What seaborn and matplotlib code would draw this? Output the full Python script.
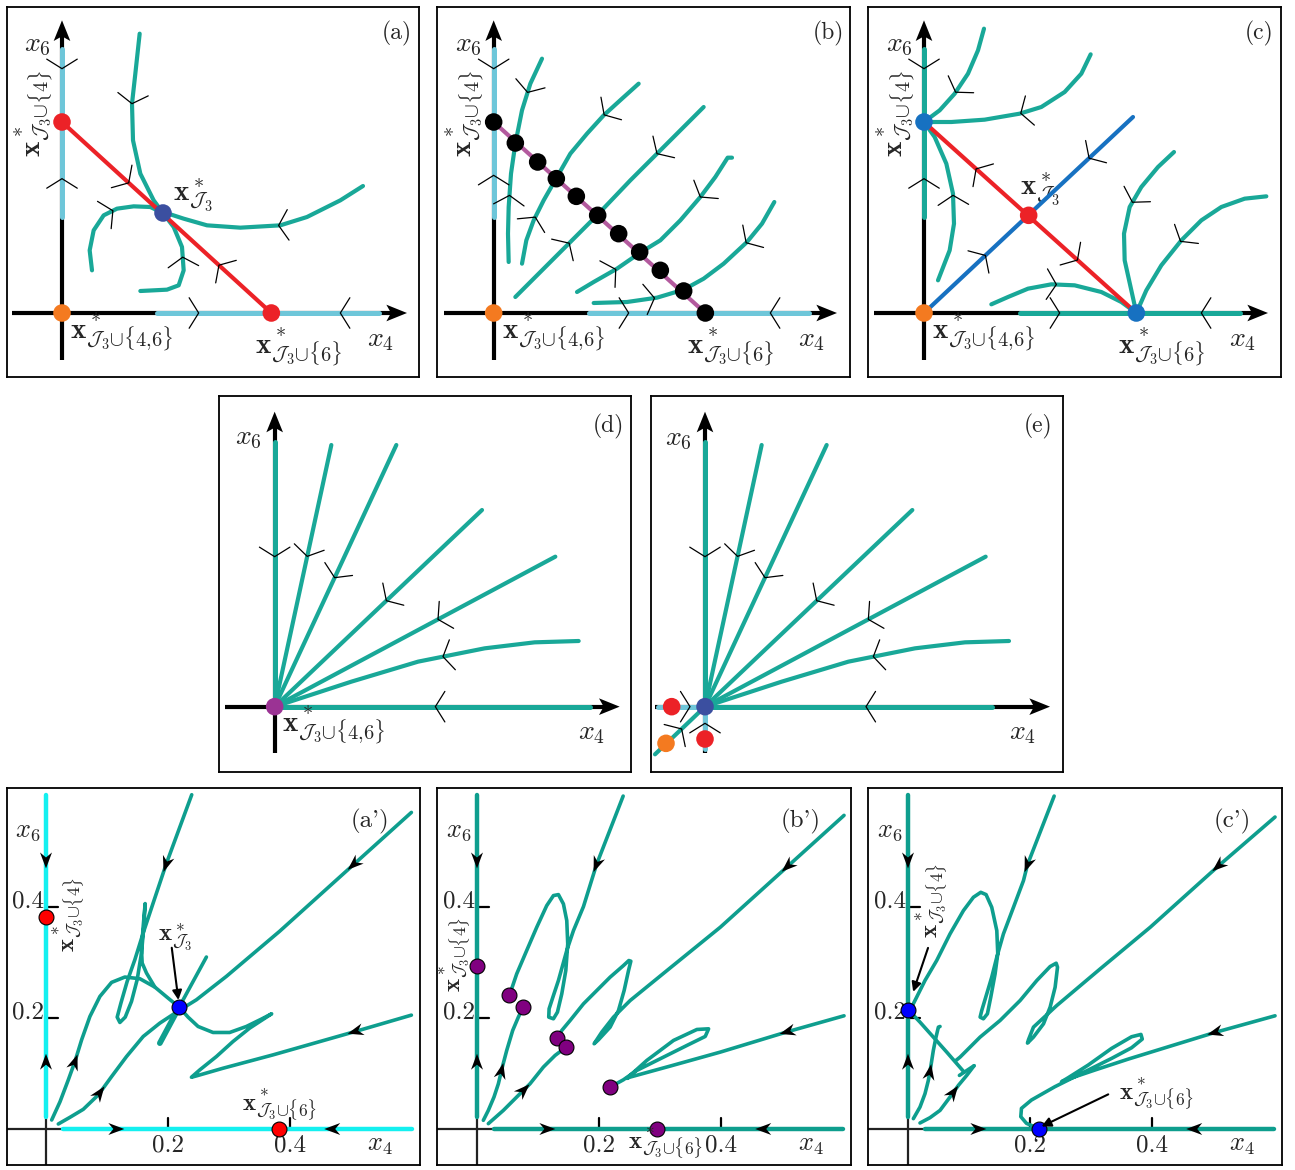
import numpy as np
import matplotlib
matplotlib.use("Agg")
import matplotlib.pyplot as plt
import seaborn as sns

sns.set_theme(style="white")
plt.rcParams["font.family"] = ["DejaVu Serif"]
plt.rcParams["mathtext.fontset"] = "cm"

# ---------------- colours ----------------
TEAL = "#19A898"
TEAL2 = "#0E9E8E"
LBLUE = "#6EC6D9"
CYAN = "#14F0F0"
RED = "#EC2227"
ORANGE = "#F47A20"
SADBLUE = "#3B4FA0"
CBLUE = "#1771C1"
PLINE = "#B35A9E"
DPURP = "#9B3394"

LBL_Y = r"$\mathbf{x}^*_{\mathcal{J}_3{\cup}\{4\}}$"
LBL_O = r"$\mathbf{x}^*_{\mathcal{J}_3{\cup}\{4{,}6\}}$"
LBL_X = r"$\mathbf{x}^*_{\mathcal{J}_3{\cup}\{6\}}$"
LBL_S = r"$\mathbf{x}^*_{\mathcal{J}_3}$"

# =============== schematic data (units: 1/3 px, origin at axes crossing) ===============
# (a)
A_C1_U = [233, 220, 210, 213, 235, 275, 303, 335, 360, 365, 350, 315, 235]
A_C1_V = [838, 718, 628, 518, 418, 338, 300, 258, 198, 128, 83, 70, 66]
A_C2_U = [903, 835, 735, 655, 535, 435, 365, 325, 303, 265, 215, 165, 125, 95, 83, 90]
A_C2_V = [381, 338, 288, 263, 256, 263, 283, 296, 300, 318, 320, 313, 293, 248, 188, 128]
A_RED_U = [0, 628]
A_RED_V = [573, 0]
A_SADDLE = [303, 300]
A_XFIX = 628
A_YFIX = 573
A_CHEV_CURVE = ["c1", "c1", "c2", "c2", "red", "red", "y", "y", "x", "x"]
A_CHEV_U = [210, 370, 650, 153, 207, 475, 0, 0, 410, 835]
A_CHEV_V = [628, 168, 260, 306, 398, 148, 733, 403, 0, 0]
A_CHEV_DIR = [1, -1, 1, -1, 1, -1, -1, 1, 1, -1]

# (b)
B_LINE_U = [0, 635]
B_LINE_V = [573, 0]
B_DOTS_U = [0, 65, 132, 188, 248, 312, 375, 438, 500, 570, 635]
B_DOTS_V = [573, 510, 453, 403, 350, 293, 238, 183, 128, 66, 0]
B_C1_U = [145, 110, 85, 65, 52, 45, 43, 45]
B_C1_V = [763, 688, 608, 508, 418, 318, 238, 153]
B_C2_U = [435, 385, 330, 280, 230, 190, 150, 120, 98, 85]
B_C2_V = [688, 643, 593, 538, 478, 408, 338, 278, 218, 148]
B_C3_U = [630, 560, 490, 410, 310, 230, 150, 65]
B_C3_V = [618, 548, 478, 398, 293, 213, 133, 48]
B_C4_U = [715, 702, 665, 620, 560, 500, 438, 370, 300, 250]
B_C4_V = [466, 466, 408, 348, 278, 218, 180, 133, 93, 63]
B_C5_U = [842, 805, 760, 690, 630, 570, 490, 400, 300]
B_C5_V = [333, 268, 213, 148, 103, 70, 46, 33, 30]
B_CHEV_CURVE = ["y", "y", "x", "x", "c1", "c1", "c2", "c2", "c3", "c3", "c4", "c4", "c5", "c5"]
B_CHEV_U = [0, 0, 405, 830, 98, 45, 330, 128, 490, 228, 620, 365, 760, 482]
B_CHEV_V = [733, 413, 0, 0, 663, 353, 596, 286, 478, 208, 348, 133, 208, 48]
B_CHEV_DIR = [-1, 1, 1, -1, 1, -1, 1, -1, 1, -1, 1, -1, 1, -1]

# (c)
C_C1_U = [180, 162, 132, 92, 47, 0]
C_C1_V = [853, 788, 718, 658, 608, 573]
C_C2_U = [500, 472, 422, 352, 287, 182, 82, 0]
C_C2_V = [776, 718, 663, 618, 598, 580, 573, 573]
C_C3_U = [0, 32, 67, 87, 90, 77, 42]
C_C3_V = [573, 528, 448, 358, 268, 188, 98]
C_C4_U = [750, 702, 652, 617, 600, 602, 622, 637]
C_C4_V = [483, 438, 378, 318, 238, 158, 68, 0]
C_C5_U = [1027, 962, 892, 832, 772, 712, 667, 637]
C_C5_V = [350, 343, 318, 278, 218, 143, 68, 0]
C_C6_U = [202, 252, 312, 382, 452, 532, 592, 637]
C_C6_V = [26, 48, 73, 86, 83, 63, 33, 0]
C_RED_U = [0, 637]
C_RED_V = [573, 0]
C_BLUE_U = [0, 627]
C_BLUE_V = [0, 588]
C_SADDLE = [314, 293]
C_CHEV_CURVE = ["y", "y", "x", "x", "c1", "c2", "c3", "red", "red", "blue", "blue", "c4", "c5", "c6"]
C_CHEV_U = [0, 0, 407, 832, 94, 290, 87, 157, 464, 492, 184, 624, 772, 397]
C_CHEV_V = [733, 403, 0, 0, 663, 600, 353, 433, 163, 468, 173, 333, 213, 83]
C_CHEV_DIR = [-1, 1, 1, -1, 1, 1, -1, -1, 1, -1, 1, 1, 1, 1]

# (d) / (e) rays from the origin
D_L1_U = [0, 170]
D_L1_V = [0, 785]
D_L2_U = [0, 365]
D_L2_V = [0, 785]
D_L3_U = [0, 622]
D_L3_V = [0, 590]
D_L4_U = [0, 842]
D_L4_V = [0, 450]
D_L5_U = [0, 230, 430, 630, 780, 912]
D_L5_V = [0, 75, 135, 175, 193, 197]
D_CHEV_CURVE = ["y", "L1", "L2", "L3", "L4", "L5", "x"]
D_CHEV_U = [0, 102, 180, 335, 490, 508, 482]
D_CHEV_V = [450, 450, 387, 318, 262, 135, 0]
D_CHEV_DIR = [-1, -1, -1, -1, -1, -1, -1]
E_CHEV_CURVE = ["y", "L1", "L2", "L3", "L4", "L5", "x", "xneg", "yneg", "diag"]
E_CHEV_U = [0, 102, 180, 335, 490, 508, 483, -45, 0, -70]
E_CHEV_V = [450, 450, 387, 318, 262, 135, 0, 0, -50, -67]
E_CHEV_DIR = [-1, -1, -1, -1, -1, -1, -1, 1, 1, 1]
E_DIAG_U = [-150, 0]
E_DIAG_V = [-143, 0]
E_RED_U = [-100, 0]
E_RED_V = [0, -97]
E_ORANGE = [-117, -110]

# =============== numerical panels (data units) ===============
AP_Q_X = [0.0093, 0.023, 0.0366, 0.0475, 0.0585, 0.0721, 0.0885, 0.1077, 0.1295, 0.1541, 0.1787, 0.2005, 0.2186]
AP_Q_Y = [0.0162, 0.049, 0.0883, 0.1213, 0.1604, 0.2024, 0.2384, 0.2637, 0.2733, 0.2703, 0.2553, 0.2354, 0.2192]
AP_P_X = [0.2393, 0.1973, 0.176, 0.1596, 0.1459, 0.1333, 0.123, 0.1169, 0.1213, 0.1301, 0.1404, 0.1497,
          0.1568, 0.1607, 0.1628, 0.1596, 0.1568, 0.1579, 0.165, 0.1787]
AP_P_Y = [0.6012, 0.4763, 0.4066, 0.3526, 0.3045, 0.2655, 0.2264, 0.2012, 0.1916, 0.2012, 0.2294, 0.2685,
          0.3165, 0.3646, 0.4054, 0.3646, 0.3225, 0.2985, 0.2805, 0.2553]
AP_D_X = [0.6, 0.3836, 0.2962, 0.247, 0.2186, 0.1869, 0.1596, 0.1322, 0.1077, 0.0858, 0.0612, 0.0393, 0.0202]
AP_D_Y = [0.5694, 0.3556, 0.2745, 0.2324, 0.2132, 0.1904, 0.1664, 0.1303, 0.0943, 0.0613, 0.0354, 0.021, 0.009]
AP_S_X = [0.2634, 0.2186, 0.1869]
AP_S_Y = [0.3093, 0.2192, 0.1544]
AP_R_X = [0.6, 0.5098, 0.3727, 0.2907, 0.247, 0.2388, 0.2525, 0.2798, 0.3071, 0.3344, 0.3705, 0.3536,
          0.329, 0.3016, 0.2743, 0.2497, 0.2333, 0.2186]
AP_R_Y = [0.2048, 0.176, 0.1333, 0.1093, 0.0955, 0.0931, 0.1063, 0.1303, 0.1574, 0.1814, 0.2072, 0.1976,
          0.1844, 0.1736, 0.1736, 0.1844, 0.2012, 0.2192]
AP_SADDLE = [0.219, 0.219]
AP_RED_X = [0.0, 0.383]
AP_RED_Y = [0.382, 0.0]

BP_B1_X = [0.24, 0.1962, 0.1748, 0.1584, 0.1474, 0.1337, 0.1255, 0.1184, 0.1178, 0.1255, 0.1321, 0.1392,
           0.1458, 0.149, 0.1474, 0.1419, 0.1337, 0.1255, 0.1145, 0.0981, 0.0816, 0.0652, 0.0532]
BP_B1_Y = [0.5988, 0.4754, 0.4, 0.3569, 0.321, 0.2671, 0.2401, 0.2162, 0.2012, 0.1982, 0.2102, 0.2431,
           0.285, 0.3329, 0.3749, 0.4048, 0.4216, 0.4198, 0.4018, 0.3629, 0.321, 0.279, 0.2401]
BP_B2_X = [0.0756, 0.0679, 0.0586, 0.0488, 0.0416, 0.0351, 0.0279, 0.0186, 0.0104]
BP_B2_Y = [0.2186, 0.2012, 0.1772, 0.1413, 0.1114, 0.0814, 0.0575, 0.0335, 0.0156]
BP_B3_X = [0.6027, 0.3995, 0.3173, 0.2515, 0.2241, 0.2049, 0.1923, 0.1995, 0.2186, 0.2323, 0.2416, 0.2488,
           0.2526, 0.2493, 0.2405, 0.2186, 0.1967, 0.1748, 0.1529, 0.1392, 0.1321]
BP_B3_Y = [0.5641, 0.3629, 0.2898, 0.2311, 0.2012, 0.1743, 0.1533, 0.1605, 0.1832, 0.2132, 0.2491, 0.285,
           0.3018, 0.303, 0.294, 0.2731, 0.2491, 0.2251, 0.1952, 0.1772, 0.1641]
BP_B4_X = [0.0186, 0.0433, 0.0652, 0.0871, 0.109, 0.1282, 0.1463]
BP_B4_Y = [0.0096, 0.0335, 0.0575, 0.0814, 0.1114, 0.1323, 0.1473]
BP_B5_X = [0.6027, 0.5096, 0.3995, 0.3173, 0.2515, 0.246, 0.2789, 0.3227, 0.3611, 0.3803, 0.3748, 0.3447,
           0.3008, 0.2625, 0.2405, 0.2186]
BP_B5_Y = [0.2036, 0.1749, 0.1383, 0.1132, 0.0934, 0.091, 0.1234, 0.1593, 0.179, 0.1802, 0.1665, 0.1503,
           0.1263, 0.1054, 0.0886, 0.0754]
BP_DOTS_X = [0.0, 0.052, 0.0756, 0.1315, 0.1468, 0.2192, 0.2948]
BP_DOTS_Y = [0.2934, 0.2407, 0.2186, 0.1629, 0.1473, 0.076, 0.0]

CP_C1_X = [0.24, 0.1962, 0.1896, 0.1732, 0.1567, 0.1458, 0.1375, 0.1293, 0.1211, 0.1184, 0.1238, 0.1304,
           0.1359, 0.143, 0.1474, 0.1458, 0.1375, 0.1282, 0.1195, 0.1074, 0.091, 0.069, 0.0471, 0.0279,
           0.0142, 0.006]
CP_C1_Y = [0.5988, 0.4754, 0.4467, 0.3988, 0.3509, 0.309, 0.2731, 0.2431, 0.2132, 0.2012, 0.1982, 0.2072,
           0.2371, 0.279, 0.315, 0.3569, 0.3988, 0.4216, 0.4257, 0.4168, 0.3928, 0.3509, 0.303, 0.2671,
           0.2371, 0.2192]
CP_C2_X = [0.6027, 0.5096, 0.3978, 0.3156, 0.2444, 0.206, 0.1978, 0.1962, 0.206, 0.2225, 0.2334, 0.2416,
           0.2455, 0.2433, 0.2334, 0.2115, 0.1841, 0.1512, 0.1184, 0.0855, 0.0789]
CP_C2_Y = [0.5611, 0.473, 0.3629, 0.288, 0.2222, 0.1832, 0.1605, 0.1545, 0.1653, 0.1892, 0.2192, 0.2551,
           0.291, 0.2982, 0.2922, 0.2671, 0.2311, 0.1952, 0.1653, 0.1293, 0.1234]
CP_C3_X = [0.0, 0.0197, 0.0416, 0.0636, 0.0921]
CP_C3_Y = [0.215, 0.1922, 0.1653, 0.1383, 0.1024]
CP_C3B_X = [0.0844, 0.1085]
CP_C3B_Y = [0.0964, 0.1138]
CP_C4_X = [0.0197, 0.0362, 0.0526, 0.069, 0.0827, 0.0964, 0.1085]
CP_C4_Y = [0.0108, 0.0204, 0.0335, 0.0575, 0.0784, 0.0964, 0.1138]
CP_C5_X = [0.0088, 0.0197, 0.0279, 0.0334, 0.0373, 0.0416, 0.046, 0.0499, 0.0526]
CP_C5_Y = [0.0186, 0.0395, 0.0635, 0.0874, 0.1114, 0.1413, 0.1653, 0.1832, 0.1844]
CP_C6_X = [0.6027, 0.5041, 0.4274, 0.3616, 0.3068, 0.263, 0.2521, 0.263, 0.2959, 0.3342, 0.3671, 0.3825,
           0.3847, 0.3671, 0.3342, 0.2904, 0.2411, 0.2027, 0.1863, 0.1852, 0.1945, 0.2137]
CP_C6_Y = [0.2036, 0.1737, 0.1479, 0.1257, 0.106, 0.0898, 0.085, 0.0922, 0.115, 0.1449, 0.1659, 0.1701,
           0.1617, 0.1461, 0.1269, 0.103, 0.076, 0.0521, 0.0371, 0.0222, 0.0102, 0.0012]
CP_FIX_X = [0.0, 0.2153]
CP_FIX_Y = [0.2138, 0.0]

TICKS = [0.2, 0.4]
TICK_LABELS = ["0.2", "0.4"]

# =============== helpers ===============
FW, FH = 1295, 1170
fig = plt.figure(figsize=(FW / 100, FH / 100), dpi=100)
SERIF = ["cmr10", "DejaVu Serif"]


def frame_axes(left, top, w, h):
    ax = fig.add_axes([left / FW, 1 - (top + h) / FH, w / FW, h / FH])
    ax.set_xticks([])
    ax.set_yticks([])
    for s in ax.spines.values():
        s.set_visible(True)
        s.set_color("black")
        s.set_linewidth(1.3)
    ax.set_facecolor("white")
    return ax


def curve(ax, xs, ys, color, lw, z=3):
    sns.lineplot(x=np.asarray(xs, float), y=np.asarray(ys, float), sort=False, estimator=None, ax=ax,
                 color=color, lw=lw, zorder=z, solid_capstyle="round", solid_joinstyle="round")
    ax.set_xlabel("")
    ax.set_ylabel("")


def nearest(xs, ys, px, py):
    P = np.column_stack([xs, ys]).astype(float)
    p = np.array([px, py], float)
    best = None
    for i in range(len(P) - 1):
        a, b = P[i], P[i + 1]
        ab = b - a
        L2 = ab @ ab
        if L2 == 0:
            continue
        t = np.clip((p - a) @ ab / L2, 0, 1)
        q = a + t * ab
        d = np.linalg.norm(q - p)
        if best is None or d < best[0]:
            best = (d, q, ab / np.sqrt(L2))
    return best[1], best[2]


def chevron(ax, xs, ys, px, py, sign, arm=54, half=58):
    q, t = nearest(xs, ys, px, py)
    back = -sign * t
    pts = []
    for s in (1, -1):
        a = np.deg2rad(half * s)
        r = np.array([back[0] * np.cos(a) - back[1] * np.sin(a), back[0] * np.sin(a) + back[1] * np.cos(a)])
        pts.append(q + arm * r)
    ax.plot([pts[0][0], q[0], pts[1][0]], [pts[0][1], q[1], pts[1][1]], color="black", lw=0.9, zorder=6,
            solid_joinstyle="miter")


def axis_arrow(ax, tip, direction, length=62, half=25, notch=14):
    d = np.array(direction, float)
    n = np.array([-d[1], d[0]])
    tip = np.array(tip, float)
    base = tip - d * length
    poly = np.array([tip, base + n * half, base + d * notch, base - n * half])
    ax.fill(poly[:, 0], poly[:, 1], color="black", lw=0, zorder=2)


def arrowhead(ax, xs, ys, px, py, sign, length=16, half=6.0, notch=5):
    q, t = nearest(xs, ys, px, py)
    T = ax.transData
    qd = T.transform(q)
    td = T.transform(q + t * 1e-3) - qd
    d = sign * td / np.linalg.norm(td)
    n = np.array([-d[1], d[0]])
    tip = qd + d * length * 0.5
    base = qd - d * length * 0.5
    poly = np.array([tip, base + n * half, base + d * notch, base - n * half])
    pd = T.inverted().transform(poly)
    ax.fill(pd[:, 0], pd[:, 1], color="black", lw=0, zorder=7)


def dots(ax, xs, ys, color, s, edge="none", z=8):
    sns.scatterplot(x=np.asarray(xs, float), y=np.asarray(ys, float), ax=ax, color=color, s=s,
                    edgecolor=edge, linewidth=0.8 if edge != "none" else 0, zorder=z, legend=False)
    ax.set_xlabel("")
    ax.set_ylabel("")


def schematic_axes(left, top, w, h, ox, oy):
    ax = frame_axes(left, top, w, h)
    ax.set_xlim(-ox, 3 * w - ox)
    ax.set_ylim(oy - 3 * h, oy)
    return ax


def draw_axes_lines(ax, xtip, ytip, xleft=-150, ybot=-142):
    ax.plot([xleft, xtip - 40], [0, 0], color="black", lw=3.0, zorder=1, solid_capstyle="butt")
    ax.plot([0, 0], [ybot, ytip - 40], color="black", lw=3.0, zorder=1, solid_capstyle="butt")
    axis_arrow(ax, (xtip, 0), (1, 0))
    axis_arrow(ax, (0, ytip), (0, 1))


LBL_FS = 21
AX_FS = 20
LET_FS = 17


def top_labels(ax, letter, xfix_left, ylabel=True, xlabel_fix=True):
    ax.text(-75, 805, r"$x_6$", fontsize=AX_FS, ha="center", va="center")
    ax.text(955, -80, r"$x_4$", fontsize=AX_FS, ha="center", va="center")
    ax.text(1005, 838, letter, fontsize=LET_FS, ha="center", va="center", family=SERIF)
    if ylabel:
        ax.text(-84, 598, LBL_Y, fontsize=LBL_FS, ha="center", va="center", rotation=90)
    ax.text(25, -57, LBL_O, fontsize=LBL_FS, ha="left", va="center")
    if xlabel_fix:
        ax.text(xfix_left, -102, LBL_X, fontsize=LBL_FS, ha="left", va="center")


def run_chevrons(ax, curves, names, us, vs, dirs):
    for nm, u, v, s in zip(names, us, vs, dirs):
        xs, ys = curves[nm]
        chevron(ax, xs, ys, u, v, s)


TW = 3.0  # teal width top
# ------------------------------- (a) -------------------------------
ax = schematic_axes(7, 7, 412, 370, 165, 918)
draw_axes_lines(ax, 1035, 878)
curve(ax, [285, 950], [0, 0], LBLUE, 3.6, 2)
curve(ax, [0, 0], [288, 793], LBLUE, 3.6, 2)
curve(ax, A_C1_U, A_C1_V, TEAL, TW)
curve(ax, A_C2_U, A_C2_V, TEAL, TW)
curve(ax, A_RED_U, A_RED_V, RED, 3.0, 4)
run_chevrons(ax, {"c1": (A_C1_U, A_C1_V), "c2": (A_C2_U, A_C2_V), "red": (A_RED_U, A_RED_V),
                  "y": ([0, 0], [-140, 820]), "x": ([-150, 975], [0, 0])},
             A_CHEV_CURVE, A_CHEV_U, A_CHEV_V, A_CHEV_DIR)
dots(ax, [0, A_XFIX], [A_YFIX, 0], RED, 160)
dots(ax, [0], [0], ORANGE, 160)
dots(ax, [A_SADDLE[0]], [A_SADDLE[1]], SADBLUE, 160)
top_labels(ax, "(a)", 580)
ax.text(332, 353, LBL_S, fontsize=LBL_FS, ha="left", va="center")

# ------------------------------- (b) -------------------------------
ax = schematic_axes(437, 7, 413, 370, 170, 918)
draw_axes_lines(ax, 1030, 878)
curve(ax, [285, 945], [0, 0], LBLUE, 3.6, 2)
curve(ax, [0, 0], [288, 793], LBLUE, 3.6, 2)
bcur = {"c1": (B_C1_U, B_C1_V), "c2": (B_C2_U, B_C2_V), "c3": (B_C3_U, B_C3_V), "c4": (B_C4_U, B_C4_V),
        "c5": (B_C5_U, B_C5_V), "y": ([0, 0], [-140, 820]), "x": ([-150, 975], [0, 0])}
for k in ["c1", "c2", "c3", "c4", "c5"]:
    curve(ax, bcur[k][0], bcur[k][1], TEAL, TW)
curve(ax, B_LINE_U, B_LINE_V, PLINE, 3.0, 4)
run_chevrons(ax, bcur, B_CHEV_CURVE, B_CHEV_U, B_CHEV_V, B_CHEV_DIR)
dots(ax, B_DOTS_U, B_DOTS_V, "black", 160)
dots(ax, [0], [0], ORANGE, 160)
top_labels(ax, "(b)", 580)

# ------------------------------- (c) -------------------------------
ax = schematic_axes(868, 7, 413, 370, 168, 918)
draw_axes_lines(ax, 1032, 878)
curve(ax, [287, 947], [0, 0], TEAL, 3.6, 2)
curve(ax, [0, 0], [288, 793], TEAL, 3.6, 2)
ccur = {"c1": (C_C1_U, C_C1_V), "c2": (C_C2_U, C_C2_V), "c3": (C_C3_U, C_C3_V), "c4": (C_C4_U, C_C4_V),
        "c5": (C_C5_U, C_C5_V), "c6": (C_C6_U, C_C6_V), "red": (C_RED_U, C_RED_V),
        "blue": (C_BLUE_U, C_BLUE_V), "y": ([0, 0], [-140, 820]), "x": ([-150, 975], [0, 0])}
for k in ["c1", "c2", "c3", "c4", "c5", "c6"]:
    curve(ax, ccur[k][0], ccur[k][1], TEAL, TW)
curve(ax, C_RED_U, C_RED_V, RED, 3.0, 4)
curve(ax, C_BLUE_U, C_BLUE_V, CBLUE, 3.0, 4)
run_chevrons(ax, ccur, C_CHEV_CURVE, C_CHEV_U, C_CHEV_V, C_CHEV_DIR)
dots(ax, [0, 637], [573, 0], CBLUE, 160)
dots(ax, [0], [0], ORANGE, 160)
dots(ax, [C_SADDLE[0]], [C_SADDLE[1]], RED, 160)
top_labels(ax, "(c)", 582)
ax.text(287, 373, LBL_S, fontsize=LBL_FS, ha="left", va="center")

# ------------------------------- (d) -------------------------------
dcur = {"L1": (D_L1_U, D_L1_V), "L2": (D_L2_U, D_L2_V), "L3": (D_L3_U, D_L3_V), "L4": (D_L4_U, D_L4_V),
        "L5": (D_L5_U, D_L5_V), "y": ([0, 0], [0, 800]), "x": ([0, 975], [0, 0]),
        "xneg": ([-150, 0], [0, 0]), "yneg": ([0, 0], [-130, 0]), "diag": (E_DIAG_U, E_DIAG_V)}

ax = schematic_axes(219, 396, 412, 376, 167, 932)
draw_axes_lines(ax, 1035, 885, ybot=-140)
curve(ax, [0, 945], [0, 0], TEAL, 3.6, 2)
curve(ax, [0, 0], [0, 795], TEAL, 3.6, 2)
for k in ["L1", "L2", "L3", "L4", "L5"]:
    curve(ax, dcur[k][0], dcur[k][1], TEAL, TW)
run_chevrons(ax, dcur, D_CHEV_CURVE, D_CHEV_U, D_CHEV_V, D_CHEV_DIR)
dots(ax, [0], [0], DPURP, 160)
ax.text(-80, 808, r"$x_6$", fontsize=AX_FS, ha="center", va="center")
ax.text(952, -78, r"$x_4$", fontsize=AX_FS, ha="center", va="center")
ax.text(1000, 840, "(d)", fontsize=LET_FS, ha="center", va="center", family=SERIF)
ax.text(22, -57, LBL_O, fontsize=LBL_FS, ha="left", va="center")

# ------------------------------- (e) -------------------------------
ax = schematic_axes(651, 396, 412, 376, 162, 932)
draw_axes_lines(ax, 1035, 885, ybot=-140)
curve(ax, [0, 860], [0, 0], TEAL, 3.6, 2)
curve(ax, [0, 0], [0, 795], TEAL, 3.6, 2)
curve(ax, [-140, 0], [0, 0], LBLUE, 3.6, 2)
curve(ax, [0, 0], [-128, 0], LBLUE, 3.6, 2)
curve(ax, E_DIAG_U, E_DIAG_V, TEAL, TW)
for k in ["L1", "L2", "L3", "L4", "L5"]:
    curve(ax, dcur[k][0], dcur[k][1], TEAL, TW)
run_chevrons(ax, dcur, E_CHEV_CURVE, E_CHEV_U, E_CHEV_V, E_CHEV_DIR)
dots(ax, E_RED_U, E_RED_V, RED, 160)
dots(ax, [E_ORANGE[0]], [E_ORANGE[1]], ORANGE, 160)
dots(ax, [0], [0], SADBLUE, 160)
ax.text(-80, 805, r"$x_6$", fontsize=AX_FS, ha="center", va="center")
ax.text(953, -78, r"$x_4$", fontsize=AX_FS, ha="center", va="center")
ax.text(1000, 840, "(e)", fontsize=LET_FS, ha="center", va="center", family=SERIF)

# =============== numerical panels ===============
SX, SY = 609.0, 556.0
BW = 2.6
NFS = 18
NLB = 18


def num_axes(left, top, w, h, ox, oy, axis_color, letter):
    ax = frame_axes(left, top, w, h)
    ax.set_xlim((left - ox) / SX, (left + w - ox) / SX)
    ax.set_ylim((oy - top - h) / SY, (oy - top) / SY)
    x0, x1 = ax.get_xlim()
    y0, y1 = ax.get_ylim()
    ax.plot([x0, 0.03], [0, 0], color="#222222", lw=1.6, zorder=1)
    ax.plot([0, 0], [y0, 0.025], color="#222222", lw=1.6, zorder=1)
    for t in TICKS:
        ax.plot([t, t], [0, 0.02], color="black", lw=1.6, zorder=1)
        ax.plot([0, 0.02], [t, t], color="black", lw=1.6, zorder=1)
    for t, lab in zip(TICKS, TICK_LABELS):
        ax.text(t, -0.03, lab, fontsize=NFS, ha="center", va="center", family=SERIF)
        ax.text(-0.003, t + 0.01, lab, fontsize=NFS, ha="right", va="center", family=SERIF)
    curve(ax, [0.028, 0.6016], [0, 0], axis_color, BW + 0.6, 2)
    curve(ax, [0, 0], [0.022, 0.6], axis_color, BW + 0.6, 2)
    ax.text(-0.03, 0.537, r"$x_6$", fontsize=19, ha="center", va="center")
    ax.text(0.548, -0.028, r"$x_4$", fontsize=19, ha="center", va="center")
    ax.text(0.532, 0.554, letter, fontsize=NFS, ha="center", va="center", family=SERIF)
    return ax


def axis_heads(ax):
    arrowhead(ax, [0, 0], [0, 0.6], 0, 0.483, -1)
    arrowhead(ax, [0, 0], [0, 0.6], 0, 0.121, 1)
    arrowhead(ax, [0, 0.6], [0, 0], 0.1155, 0, 1)
    arrowhead(ax, [0, 0.6], [0, 0], 0.47, 0, -1)


# ------------------------------- (a') -------------------------------
ax = num_axes(7, 788, 413, 377, 46, 1129, CYAN, "(a')")
for xs, ys in [(AP_Q_X, AP_Q_Y), (AP_P_X, AP_P_Y), (AP_D_X, AP_D_Y), (AP_S_X, AP_S_Y), (AP_R_X, AP_R_Y)]:
    curve(ax, xs, ys, TEAL2, BW)
curve(ax, AP_S_X[1:], AP_S_Y[1:], TEAL2, BW + 1.5)
axis_heads(ax)
arrowhead(ax, AP_P_X, AP_P_Y, 0.197, 0.476, 1)
arrowhead(ax, AP_D_X, AP_D_Y, 0.508, 0.473, 1)
arrowhead(ax, AP_R_X, AP_R_Y, 0.508, 0.175, 1)
arrowhead(ax, AP_Q_X, AP_Q_Y, 0.0448, 0.1213, 1)
arrowhead(ax, AP_D_X, AP_D_Y, 0.0803, 0.0703, -1)
dots(ax, AP_RED_X, AP_RED_Y, "#FF0000", 115, edge="black")
dots(ax, [AP_SADDLE[0]], [AP_SADDLE[1]], "#0000FF", 115, edge="black")
ax.text(0.036, 0.386, LBL_Y, fontsize=NLB, ha="center", va="center", rotation=90)
ax.text(0.212, 0.346, LBL_S, fontsize=NLB, ha="center", va="center")
ax.annotate("", xy=(0.2174, 0.232), xytext=(0.2065, 0.326),
            arrowprops=dict(arrowstyle="-|>", color="black", lw=1.5, mutation_scale=14, shrinkA=0, shrinkB=0),
            zorder=9)
ax.text(0.384, 0.044, LBL_X, fontsize=NLB, ha="center", va="center")

# ------------------------------- (b') -------------------------------
ax = num_axes(437, 788, 414, 377, 477, 1129, TEAL2, "(b')")
for xs, ys in [(BP_B1_X, BP_B1_Y), (BP_B2_X, BP_B2_Y), (BP_B3_X, BP_B3_Y), (BP_B4_X, BP_B4_Y),
               (BP_B5_X, BP_B5_Y)]:
    curve(ax, xs, ys, TEAL2, BW)
axis_heads(ax)
arrowhead(ax, BP_B1_X, BP_B1_Y, 0.1962, 0.4754, 1)
arrowhead(ax, BP_B3_X, BP_B3_Y, 0.5096, 0.473, 1)
arrowhead(ax, BP_B5_X, BP_B5_Y, 0.5096, 0.1749, 1)
arrowhead(ax, BP_B2_X, BP_B2_Y, 0.0367, 0.1054, -1)
arrowhead(ax, BP_B4_X, BP_B4_Y, 0.0762, 0.0707, 1)
dots(ax, BP_DOTS_X, BP_DOTS_Y, "#800080", 115, edge="black")
ax.text(-0.038, 0.314, LBL_Y, fontsize=NLB, ha="center", va="center", rotation=90)
ax.text(0.31, -0.024, LBL_X, fontsize=NLB, ha="center", va="center", zorder=9)

# ------------------------------- (c') -------------------------------
ax = num_axes(868, 788, 414, 377, 908, 1129, TEAL2, "(c')")
for xs, ys in [(CP_C1_X, CP_C1_Y), (CP_C2_X, CP_C2_Y), (CP_C3_X, CP_C3_Y), (CP_C3B_X, CP_C3B_Y),
               (CP_C4_X, CP_C4_Y), (CP_C5_X, CP_C5_Y), (CP_C6_X, CP_C6_Y)]:
    curve(ax, xs, ys, TEAL2, BW)
axis_heads(ax)
arrowhead(ax, CP_C1_X, CP_C1_Y, 0.1962, 0.4754, 1)
arrowhead(ax, CP_C2_X, CP_C2_Y, 0.5096, 0.473, 1)
arrowhead(ax, CP_C6_X, CP_C6_Y, 0.5041, 0.1737, 1)
arrowhead(ax, CP_C5_X, CP_C5_Y, 0.0373, 0.1024, 1)
arrowhead(ax, CP_C4_X, CP_C4_Y, 0.069, 0.0695, 1)
dots(ax, CP_FIX_X, CP_FIX_Y, "#0000FF", 115, edge="black")
ax.text(0.0384, 0.4114, LBL_Y, fontsize=NLB, ha="center", va="center", rotation=90)
ax.annotate("", xy=(0.0085, 0.2467), xytext=(0.0329, 0.3257),
            arrowprops=dict(arrowstyle="-|>", color="black", lw=1.5, mutation_scale=14, shrinkA=0, shrinkB=0),
            zorder=9)
ax.text(0.408, 0.064, LBL_X, fontsize=NLB, ha="center", va="center")
ax.annotate("", xy=(0.2192, 0.0045), xytext=(0.3288, 0.0623),
            arrowprops=dict(arrowstyle="-|>", color="black", lw=1.5, mutation_scale=14, shrinkA=0, shrinkB=0),
            zorder=9)

fig.savefig("out.png", dpi=100, facecolor="white")
